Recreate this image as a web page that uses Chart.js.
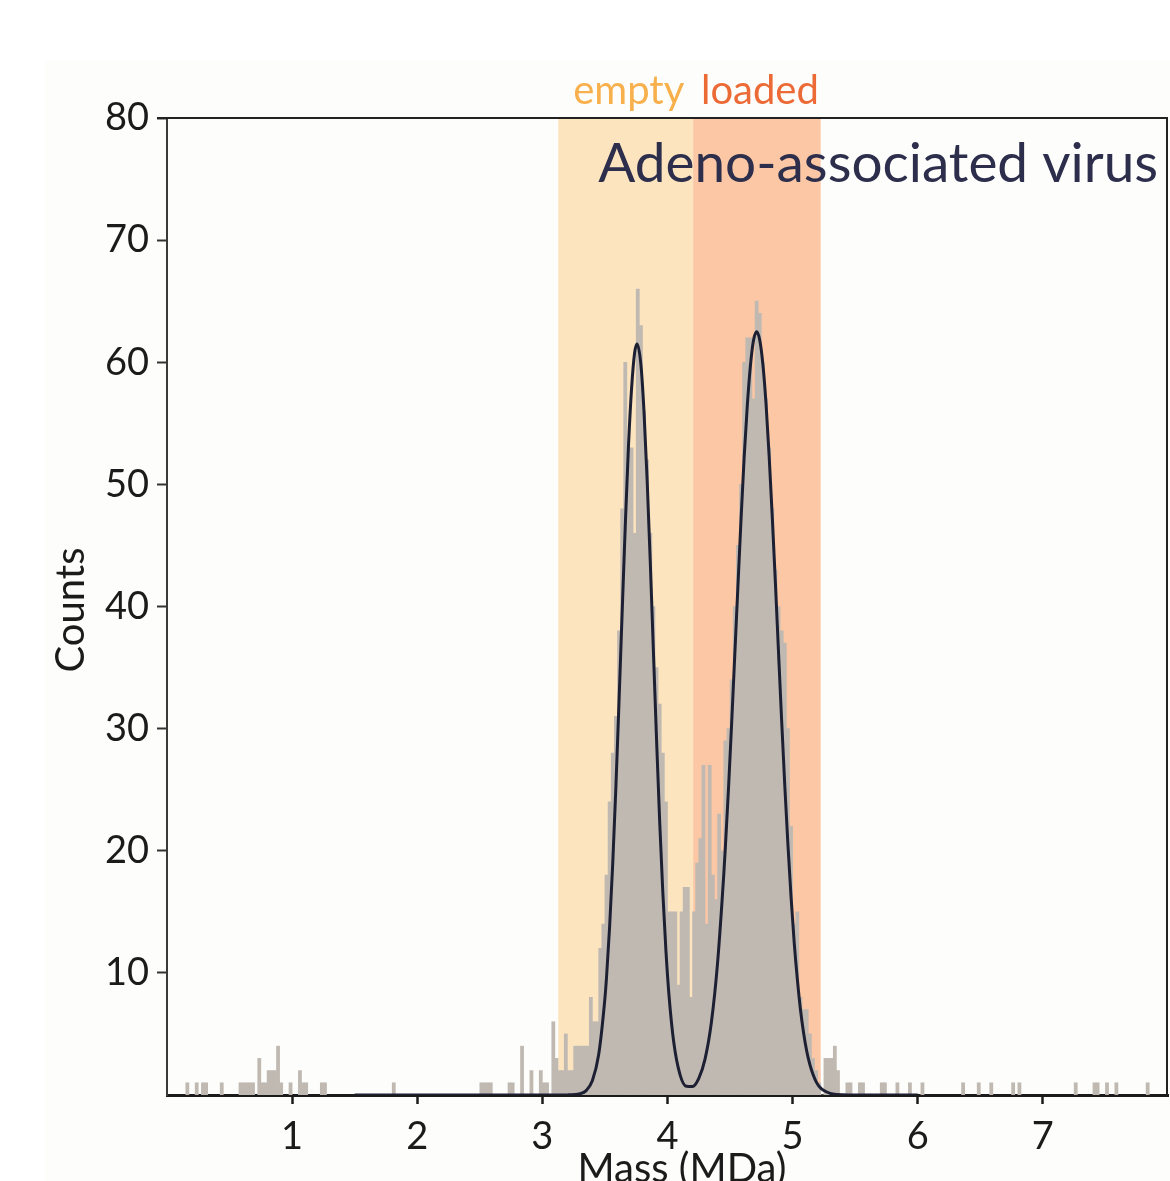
<!DOCTYPE html>
<html>
<head>
<meta charset="utf-8">
<title>Adeno-associated virus mass histogram</title>
<script src="https://cdn.jsdelivr.net/npm/chart.js@4.4.1/dist/chart.umd.min.js"></script>
<style>
  html, body { margin: 0; padding: 0; background: #ffffff; }
  #chart { display: block; }
</style>
</head>
<body>
<canvas id="chart" width="1170" height="1181"></canvas>
<script>
/* Mass photometry histogram of AAV particles, with a two-peak fit */

// histogram bins (bin centres, MDa) and their counts
const massBins = [
  0.1625, 0.2375, 0.2875, 0.3125, 0.4375,
  0.5875, 0.6125, 0.6375, 0.6625, 0.6875,
  0.7375, 0.7625, 0.7875, 0.8125, 0.8375, 0.8625, 0.8875, 0.9125, 0.9875,
  1.0625, 1.0875, 1.1125, 1.2375, 1.2625,
  1.8125,
  2.5125, 2.5375, 2.5625, 2.5875, 2.7375, 2.7625, 2.8375, 2.9125,
  2.9875, 3.0125, 3.0375, 3.0625, 3.0875, 3.1125, 3.1375, 3.1625, 3.1875, 3.2125,
  3.2375, 3.2625, 3.2875, 3.3125, 3.3375, 3.3625, 3.3875, 3.4125, 3.4375, 3.4625,
  3.4875, 3.5125, 3.5375, 3.5625, 3.5875, 3.6125, 3.6375, 3.6625, 3.6875, 3.7125,
  3.7375, 3.7625, 3.7875, 3.8125, 3.8375, 3.8625, 3.8875, 3.9125, 3.9375, 3.9625,
  3.9875, 4.0125, 4.0375, 4.0625, 4.0875, 4.1125, 4.1375, 4.1625, 4.1875, 4.2125,
  4.2375, 4.2625, 4.2875, 4.3125, 4.3375, 4.3625, 4.3875, 4.4125, 4.4375, 4.4625,
  4.4875, 4.5125, 4.5375, 4.5625, 4.5875, 4.6125, 4.6375, 4.6625, 4.6875, 4.7125,
  4.7375, 4.7625, 4.7875, 4.8125, 4.8375, 4.8625, 4.8875, 4.9125, 4.9375, 4.9625,
  4.9875, 5.0125, 5.0375, 5.0625, 5.0875, 5.1125, 5.1375, 5.1625, 5.1875, 5.2125,
  5.2375, 5.2625, 5.2875, 5.3125, 5.3375, 5.3625, 5.3875, 5.4125, 5.4375, 5.4625,
  5.5375, 5.5625, 5.7125, 5.7375, 5.8375, 5.9375, 6.0375,
  6.3625, 6.4875, 6.5875, 6.7625, 6.8125,
  7.2625, 7.4125, 7.4375, 7.5125, 7.5875, 7.8375
];
const counts = [
  1, 1, 1, 1, 1,
  1, 1, 1, 1, 1,
  3, 1, 1, 2, 2, 2, 4, 1, 1,
  2, 1, 1, 1, 1,
  1,
  1, 1, 1, 1, 1, 1, 4, 2,
  2, 1, 1, 0, 6, 3, 2, 2, 5, 2,
  2, 4, 4, 4, 4, 4, 8, 6, 6, 12,
  14, 18, 24, 28, 31, 38, 48, 60, 53, 53,
  46, 66, 63, 56, 52, 46, 40, 35, 32, 28,
  24, 15, 15, 15, 9, 15, 17, 17, 8, 15,
  19, 21, 27, 14, 27, 18, 16, 23, 20, 29,
  30, 34, 40, 45, 50, 60, 62, 62, 57, 65,
  64, 60, 57, 53, 48, 43, 40, 38, 37, 30,
  22, 14, 15, 8, 7, 7, 5, 3, 2, 1,
  0, 3, 3, 3, 4, 2, 0, 0, 1, 1,
  1, 1, 1, 1, 1, 1, 1,
  1, 1, 1, 1, 1,
  1, 1, 1, 1, 1, 1
];

// fitted curve
const fitMass = [
  1.5, 3.0, 3.2, 3.3, 3.35, 3.4, 3.45, 3.5, 3.5125, 3.5375, 3.5625, 3.5875,
  3.6125, 3.6375, 3.6625, 3.6875, 3.7125, 3.7375, 3.757, 3.7875, 3.8125, 3.8375,
  3.8625, 3.8875, 3.9125, 3.9375, 3.9625, 3.9875, 4.0125, 4.05, 4.1, 4.15, 4.2,
  4.25, 4.3, 4.35, 4.4, 4.45, 4.4625, 4.4875, 4.5125, 4.5375, 4.5625, 4.5875,
  4.6125, 4.6375, 4.6625, 4.6875, 4.713, 4.7375, 4.7625, 4.7875, 4.8125, 4.8375,
  4.8625, 4.8875, 4.9125, 4.9375, 4.9625, 4.9875, 5.0125, 5.0375, 5.0625, 5.0875,
  5.1125, 5.1375, 5.1625, 5.1875, 5.2125, 5.25, 5.3, 5.35, 5.45, 6.0
];
const fitCounts = [
  0, 0, 0.01, 0.1, 0.36, 1.18, 3.31, 7.94, 9.6, 13.8, 19.0, 25.2,
  32.2, 39.5, 46.6, 53.0, 57.8, 60.8, 61.5, 59.8, 55.9, 50.3,
  43.6, 36.3, 29.1, 22.4, 16.6, 11.8, 8.1, 4.32, 1.67, 0.72, 0.7,
  1.37, 2.94, 5.89, 10.8, 18.1, 20.3, 25.1, 30.4, 36.0, 41.6, 47.1,
  52.2, 56.4, 59.7, 61.8, 62.5, 61.8, 59.8, 56.6, 52.3, 47.3,
  41.9, 36.2, 30.6, 25.3, 20.5, 16.2, 12.5, 9.5, 7.0, 5.1,
  3.6, 2.5, 1.7, 1.1, 0.7, 0.36, 0.13, 0.04, 0, 0
];

// shaded populations: edges in MDa
const bandEdges = [3.127, 4.205, 5.224];
const bandNames = ['empty', 'loaded'];

const xTicks = [1, 2, 3, 4, 5, 6, 7];
const yTicks = [10, 20, 30, 40, 50, 60, 70, 80];

const TITLE = 'Adeno-associated virus';
const FONT = 'Lato, "Open Sans", sans-serif';
const INK = '#1b1b1b';
const BAND_FILL = ['#fce4bf', '#fbc7a5'];
const BAND_TEXT = ['#f8b04c', '#ec6a35'];

const decorations = {
  id: 'decorations',
  beforeDraw(chart) {
    const { ctx, chartArea: a, scales: { x } } = chart;
    ctx.save();
    ctx.fillStyle = '#fdfdfb';
    ctx.fillRect(45, 60, chart.width - 45, chart.height - 60);
    bandNames.forEach((name, i) => {
      const x0 = x.getPixelForValue(bandEdges[i]);
      const x1 = x.getPixelForValue(bandEdges[i + 1]);
      ctx.fillStyle = BAND_FILL[i];
      ctx.fillRect(x0, a.top, x1 - x0, a.bottom - a.top);
    });
    ctx.restore();
  },
  afterDraw(chart) {
    const { ctx, chartArea: a, scales: { x } } = chart;
    ctx.save();

    // top and right frame
    ctx.strokeStyle = '#222';
    ctx.lineWidth = 2;
    ctx.beginPath();
    ctx.moveTo(a.left - 10, a.top);
    ctx.lineTo(a.right - 1, a.top);
    ctx.lineTo(a.right - 1, a.bottom);
    ctx.stroke();

    // population labels above the plot
    ctx.font = `40px ${FONT}`;
    ctx.textAlign = 'center';
    ctx.textBaseline = 'alphabetic';
    bandNames.forEach((name, i) => {
      const mid = (x.getPixelForValue(bandEdges[i]) + x.getPixelForValue(bandEdges[i + 1])) / 2;
      ctx.fillStyle = BAND_TEXT[i];
      ctx.fillText(name, mid + 3, 104);
    });

    // title inside the frame
    let size = 56;
    ctx.font = `${size}px ${FONT}`;
    size = size * 560 / ctx.measureText(TITLE).width;
    ctx.font = `${size}px ${FONT}`;
    ctx.fillStyle = '#2c2e4c';
    ctx.textAlign = 'right';
    ctx.fillText(TITLE, 1158, 182);

    // axis titles
    ctx.fillStyle = INK;
    ctx.font = `40px ${FONT}`;
    ctx.textAlign = 'center';
    ctx.fillText('Mass (MDa)', 682, 1182);

    ctx.translate(84, 610);
    ctx.rotate(-Math.PI / 2);
    ctx.fillText('Counts', 0, 0);
    ctx.restore();
  }
};

function init() {
  const ctx = document.getElementById('chart');

  new Chart(ctx, {
    type: 'bar',
    data: {
      datasets: [
        {
          type: 'line',
          label: 'Fit',
          data: fitMass.map((m, i) => ({ x: m, y: fitCounts[i] })),
          borderColor: '#1d1f33',
          borderWidth: 3,
          pointRadius: 0,
          cubicInterpolationMode: 'monotone',
          fill: false,
          order: 0,
        },
        {
          type: 'bar',
          label: 'Counts',
          data: massBins.map((m, i) => ({ x: m, y: counts[i] })),
          backgroundColor: '#c0b9b2',
          borderWidth: 0,
          barPercentage: 1,
          categoryPercentage: 1,
          order: 1,
        },
      ],
    },
    options: {
      responsive: false,
      animation: false,
      layout: { padding: { top: 118, right: 2, left: 0, bottom: 0 } },
      plugins: {
        legend: { display: false },
        tooltip: { enabled: false },
      },
      scales: {
        x: {
          type: 'linear',
          min: 0,
          max: 8,
          offset: false,
          z: 1,
          afterBuildTicks: s => { s.ticks = xTicks.map(v => ({ value: v })); },
          afterFit: s => { s.height = 86; },
          ticks: {
            color: INK,
            font: { family: FONT, size: 38 },
            padding: 10,
            maxRotation: 0,
          },
          grid: {
            offset: false,
            drawOnChartArea: false,
            drawTicks: true,
            tickLength: 9,
            tickWidth: 2.5,
            tickColor: INK,
          },
          border: { display: true, color: INK, width: 3 },
        },
        y: {
          min: 0,
          max: 80,
          z: 1,
          afterBuildTicks: s => { s.ticks = yTicks.map(v => ({ value: v })); },
          afterFit: s => { s.width = 167; },
          ticks: {
            color: INK,
            font: { family: FONT, size: 38 },
            padding: 8,
          },
          grid: {
            drawOnChartArea: false,
            drawTicks: true,
            tickLength: 10,
            tickWidth: 2,
            tickColor: '#333',
          },
          border: { display: true, color: '#3a3a3a', width: 2 },
        },
      },
    },
    plugins: [decorations],
  });
}

document.addEventListener('DOMContentLoaded', init);
</script>
</body>
</html>
